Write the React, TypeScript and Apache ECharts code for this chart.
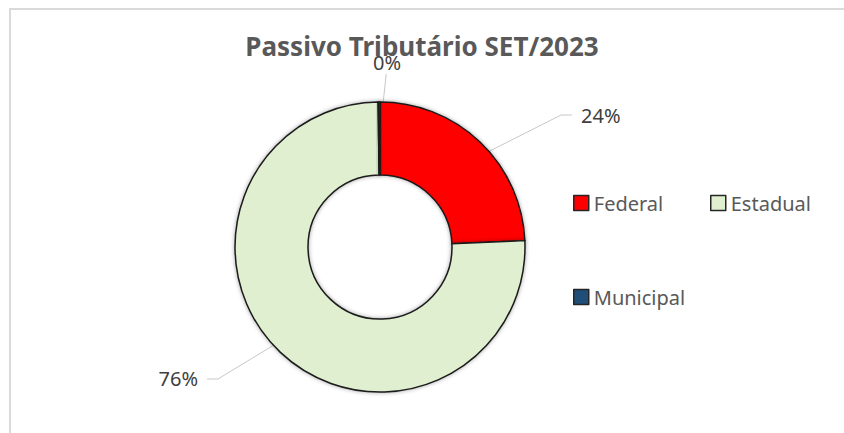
import React, { useEffect, useRef } from "react";
import * as echarts from "echarts";

const TITLE = "Passivo Tributário SET/2023";
const CATEGORIES = ["Federal", "Estadual", "Municipal"];
const VALUES = [24.3, 75.5, 0.2];
const COLORS = ["#ff0000", "#e0efd0", "#1f4e79"];

const CX = 380;
const CY = 247;
const R_IN = 72;
const R_OUT = 145;

// label anchor layout (text position and leader-line knee/end)
const LABEL_LAYOUT = [
  { x: 581, y: 115, align: "left", knee: [561, 115], end: [572, 115] },
  { x: 198, y: 378, align: "right", knee: [218, 379], end: [207, 379] },
  { x: 387, y: 62, align: "center", knee: [386, 76], end: [386, 74] },
];

export default function App() {
  const ref = useRef<HTMLDivElement>(null);
  useEffect(() => {
    if (!ref.current) return;
    const chart = echarts.init(ref.current, null, { renderer: "svg" });
    const total = VALUES.reduce((a, b) => a + b, 0);
    const mids: number[] = [];
    let acc = 0;
    VALUES.forEach((v) => {
      const a0 = (acc / total) * Math.PI * 2;
      acc += v;
      const a1 = (acc / total) * Math.PI * 2;
      mids.push((a0 + a1) / 2);
    });
    const rMid = (R_IN + R_OUT) / 2;
    const legendBase = {
      icon: "rect",
      itemWidth: 15,
      itemHeight: 15,
      itemGap: 0,
      textStyle: { color: "#595959", fontSize: 20, fontFamily: "Noto Sans" },
      itemStyle: { borderColor: "#262626", borderWidth: 1.5 },
      selectedMode: false,
    };
    chart.setOption({
      animation: false,
      backgroundColor: "#ffffff",
      title: {
        text: TITLE,
        left: "center",
        top: 28,
        textStyle: {
          color: "#595959",
          fontSize: 26,
          fontWeight: "bold",
          fontFamily: "Noto Sans",
        },
      },
      legend: [
        { ...legendBase, left: 568, top: 188, data: [CATEGORIES[0]] },
        { ...legendBase, left: 705, top: 188, data: [CATEGORIES[1]] },
        { ...legendBase, left: 568, top: 282, data: [CATEGORIES[2]] },
      ],
      graphic: [
        {
          type: "rect",
          shape: { x: 10, y: 9, width: 900, height: 600 },
          style: { fill: "none", stroke: "#dadada", lineWidth: 2 },
          silent: true,
        },
      ],
      series: [
        {
          type: "pie",
          center: [CX, CY],
          radius: [R_IN, R_OUT],
          startAngle: 90,
          clockwise: true,
          avoidLabelOverlap: false,
          percentPrecision: 0,
          minAngle: 0,
          itemStyle: {
            borderColor: "#1a1a1a",
            borderWidth: 1.5,
            shadowBlur: 4,
            shadowColor: "rgba(0,0,0,0.35)",
          },
          label: {
            show: true,
            position: "outside",
            formatter: "{d}%",
            color: "#404040",
            fontSize: 20,
            fontFamily: "Noto Sans",
          },
          labelLine: {
            show: true,
            lineStyle: { color: "#c8c8c8", width: 1 },
          },
          labelLayout: (params: any) => {
            const i = params.dataIndex;
            const L = LABEL_LAYOUT[i];
            const sx = CX + rMid * Math.sin(mids[i]);
            const sy = CY - rMid * Math.cos(mids[i]);
            return {
              x: L.x,
              y: L.y,
              align: L.align,
              verticalAlign: "middle",
              labelLinePoints: [[sx, sy], L.knee, L.end],
            };
          },
          data: CATEGORIES.map((name, i) => ({
            name,
            value: VALUES[i],
            itemStyle: { color: COLORS[i] },
          })),
        },
      ],
    });
    return () => chart.dispose();
  }, []);
  return (
    <div
      ref={ref}
      style={{ position: "absolute", left: 0, top: 0, width: 844, height: 433 }}
    />
  );
}
